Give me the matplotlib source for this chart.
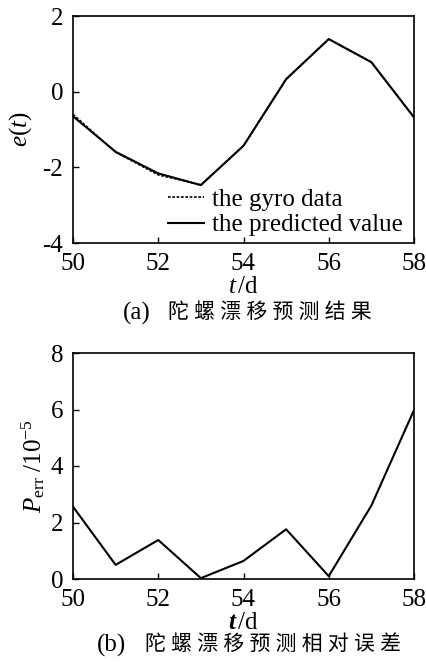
import matplotlib
matplotlib.use("Agg")
import matplotlib.pyplot as plt

t = [50, 51, 52, 53, 54, 55, 56, 57, 58]
gyro = [-0.60, -1.60, -2.20, -2.46, -1.43, 0.33, 1.39, 0.78, -0.68]
pred = [-0.65, -1.59, -2.16, -2.47, -1.43, 0.33, 1.39, 0.78, -0.68]
perr = [2.56, 0.50, 1.38, 0.03, 0.64, 1.76, 0.10, 2.60, 5.98]

xticks = [50, 52, 54, 56, 58]
serif = ['Liberation Serif', 'DejaVu Serif']
cjk = ['Liberation Serif', 'Noto Sans CJK SC']
plt.rcParams['font.family'] = serif
plt.rcParams['mathtext.fontset'] = 'custom'
plt.rcParams['mathtext.rm'] = 'Liberation Serif'
plt.rcParams['mathtext.it'] = 'Liberation Serif:italic'
plt.rcParams['mathtext.bf'] = 'Liberation Serif:italic:bold'

FS = 18
W, H = 427, 663
fig = plt.figure(figsize=(W/100, H/100), dpi=100)

def ax_rect(l, t_, r, b):
    return [l/W, 1 - b/H, (r-l)/W, (b-t_)/H]

ax1 = fig.add_axes(ax_rect(73, 16, 414, 243))
ax1.plot(t, gyro, color='black', lw=1.2, ls=(0, (1.6, 1.0)), label='the gyro data')
ax1.plot(t, pred, color='black', lw=1.5, label='the predicted value')
ax1.set_xlim(50, 58)
ax1.set_ylim(-4, 2)
ax1.set_xticks(xticks)
ax1.set_yticks([-4, -2, 0, 2])
ax1.set_yticklabels(['-4', '-2', '0', '2'])
ax1.set_ylabel(r'$e(t)$', fontsize=FS, labelpad=6)
ax1.set_xlabel(r'$t\,$/d', fontsize=FS, labelpad=1)
leg = ax1.legend(loc='lower right', bbox_to_anchor=(1.0, -0.02), frameon=False,
                 fontsize=FS, handlelength=1.45, handletextpad=0.3,
                 borderaxespad=0.05, labelspacing=0.12)
fig.text(123/W, 1 - 313/H, '(a)', ha='left', va='center', fontsize=FS)
fig.text(168/W, 1 - 313/H, ' '.join('陀螺漂移预测结果'), ha='left', va='center',
         fontsize=15, family=cjk)

ax2 = fig.add_axes(ax_rect(73, 353, 414, 579))
ax2.plot(t, perr, color='black', lw=1.5)
ax2.set_xlim(50, 58)
ax2.set_ylim(0, 8)
ax2.set_xticks(xticks)
ax2.set_yticks([0, 2, 4, 6, 8])
ax2.set_ylabel(r'$P_{\mathrm{err}}$ /10$^{-5}$', fontsize=FS, labelpad=3)
ax2.set_xlabel(r'$\mathbf{t}\,$/d', fontsize=FS, labelpad=1)
fig.text(97/W, 1 - 645/H, '(b)', ha='left', va='center', fontsize=FS)
fig.text(145/W, 1 - 645/H, ' '.join('陀螺漂移预测相对误差'), ha='left', va='center',
         fontsize=15, family=cjk)

for ax in (ax1, ax2):
    ax.tick_params(direction='in', length=4, width=1, labelsize=FS, pad=7,
                   top=False, right=False)
    for s in ax.spines.values():
        s.set_linewidth(1.2)

fig.savefig('out.png', dpi=100)
